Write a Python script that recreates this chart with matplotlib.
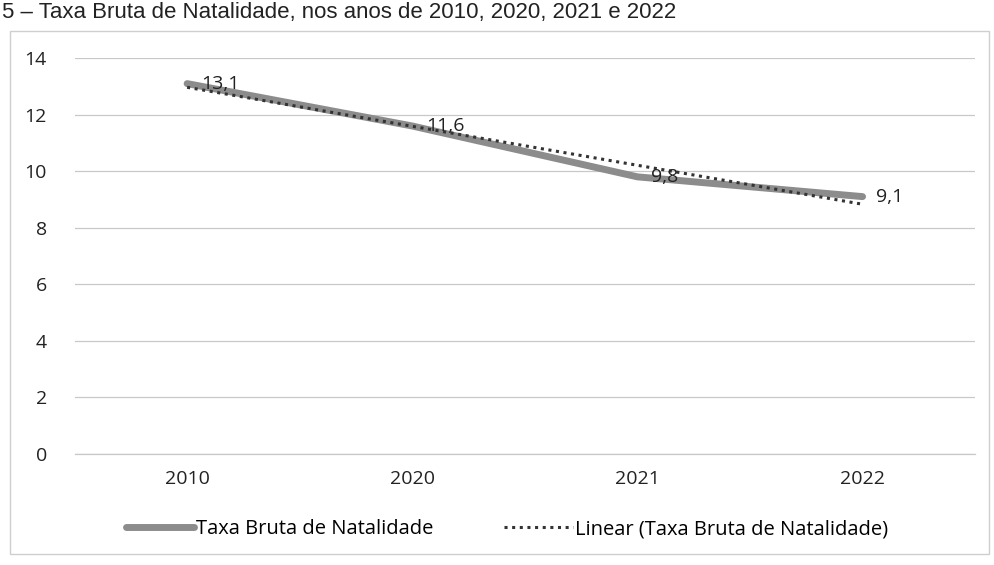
import numpy as np
import matplotlib.pyplot as plt
from matplotlib.patches import Rectangle

categories = ["2010", "2020", "2021", "2022"]
taxa = [13.1, 11.6, 9.8, 9.1]
value_labels = ["13,1", "11,6", "9,8", "9,1"]
y_ticks = [0, 2, 4, 6, 8, 10, 12, 14]
title = "5 – Taxa Bruta de Natalidade, nos anos de 2010, 2020, 2021 e 2022"

plt.rcParams['font.family'] = ['Open Sans', 'DejaVu Sans']

fig = plt.figure(figsize=(9.94, 5.65), dpi=100)
ax = fig.add_axes([0.075, 0.197, 0.906, 0.70])

x = np.arange(len(categories))
ax.plot(x, taxa, color="#8c8c8c", lw=5, solid_capstyle="round",
        label="Taxa Bruta de Natalidade", zorder=3)

# linear trendline, as Excel does it
m, b = np.polyfit(x + 1, taxa, 1)
ax.plot(x, m * (x + 1) + b, color="#333333", lw=2.2, ls=(0, (1, 1.5)),
        label="Linear (Taxa Bruta de Natalidade)", zorder=4)

for xi, yi, lab in zip(x, taxa, value_labels):
    ax.annotate(lab, (xi, yi), xytext=(10, 0), textcoords="offset points",
                va="center", ha="left", fontsize=14, color="#222222", zorder=5)

ax.set_xlim(-0.5, len(categories) - 0.5)
ax.set_ylim(0, 14)
ax.set_yticks(y_ticks)
ax.set_xticks(x)
ax.set_xticklabels(categories)
ax.tick_params(length=0, labelsize=14, colors="#222222")
ax.tick_params(axis="x", pad=12)
ax.tick_params(axis="y", pad=20)
ax.grid(axis="y", color="#c8c8c8", lw=0.9)
ax.axhline(0, color="#c8c8c8", lw=0.9, clip_on=False, zorder=0)
ax.set_axisbelow(True)
for s in ax.spines.values():
    s.set_visible(False)

ax.legend(loc="upper center", bbox_to_anchor=(0.48, -0.12), ncol=2, frameon=False,
          fontsize=14.5, handlelength=3.4, handletextpad=0.1, columnspacing=3.5)

# chart border
fig.patches.append(Rectangle((0.01, 0.02), 0.985, 0.925, transform=fig.transFigure,
                             fill=False, ec="#cfcfcf", lw=1))

fig.text(0.002, 0.997, title, fontsize=16, family=["Liberation Sans", "DejaVu Sans"],
         va="top", ha="left", color="#222222")

fig.savefig("out.png", dpi=100)
